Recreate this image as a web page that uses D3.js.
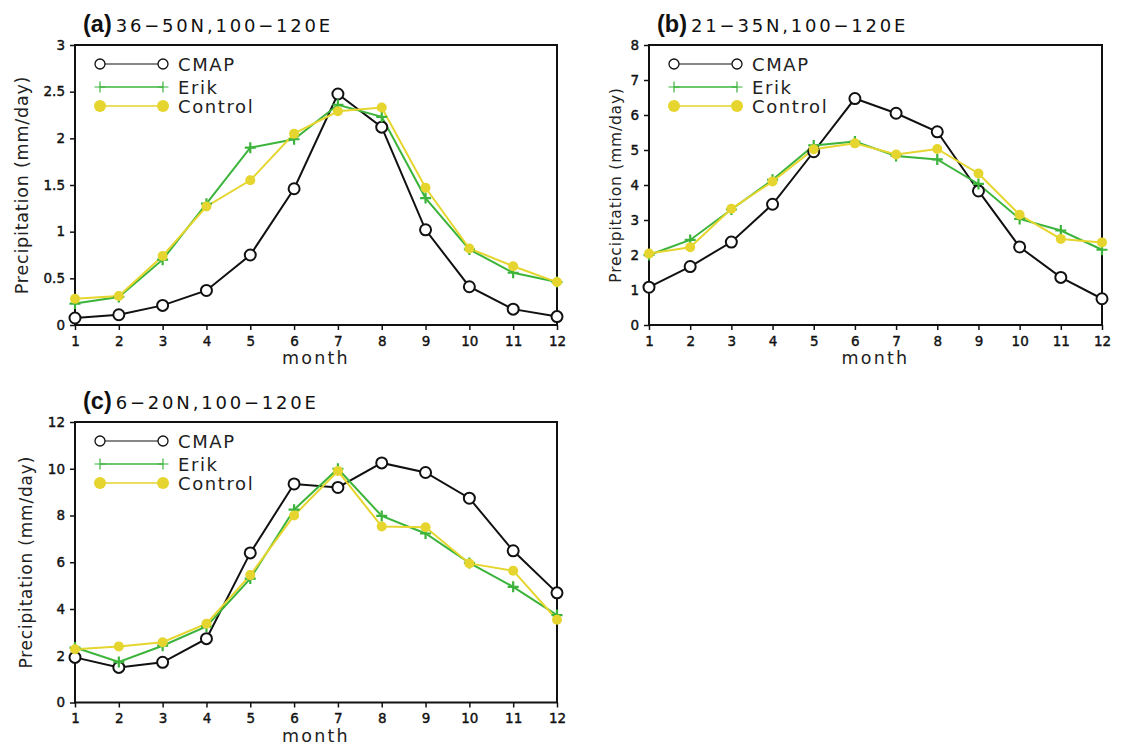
<!DOCTYPE html>
<html>
<head>
<meta charset="utf-8">
<script src="https://cdn.jsdelivr.net/npm/d3@7"></script>
<style>
  body { margin: 0; background: #fff; }
  svg { display: block; }
</style>
</head>
<body>
<div class="container"></div>
<script>
// monthly precipitation (mm/day)
const months = [1, 2, 3, 4, 5, 6, 7, 8, 9, 10, 11, 12];

const cmapA    = [0.075, 0.11, 0.21, 0.37, 0.75, 1.46, 2.475, 2.12, 1.02, 0.41, 0.17, 0.09];
const erikA    = [0.23, 0.30, 0.70, 1.30, 1.90, 1.99, 2.36, 2.23, 1.36, 0.81, 0.56, 0.46];
const controlA = [0.28, 0.31, 0.74, 1.27, 1.55, 2.05, 2.29, 2.33, 1.47, 0.82, 0.63, 0.46];

const cmapB    = [1.08, 1.67, 2.37, 3.45, 4.95, 6.47, 6.05, 5.52, 3.83, 2.23, 1.36, 0.75];
const erikB    = [2.00, 2.43, 3.30, 4.15, 5.13, 5.24, 4.83, 4.73, 4.03, 3.03, 2.70, 2.15];
const controlB = [2.04, 2.22, 3.32, 4.10, 5.02, 5.19, 4.87, 5.03, 4.33, 3.15, 2.46, 2.36];

const cmapC    = [1.93, 1.50, 1.72, 2.73, 6.40, 9.35, 9.20, 10.25, 9.84, 8.74, 6.49, 4.69];
const erikC    = [2.35, 1.73, 2.43, 3.25, 5.30, 8.25, 10.0, 7.98, 7.23, 5.97, 4.95, 3.74];
const controlC = [2.28, 2.40, 2.58, 3.37, 5.45, 8.00, 9.90, 7.53, 7.50, 5.95, 5.64, 3.54];

const yTicksA = [0, 0.5, 1, 1.5, 2, 2.5, 3];
const yTicksB = [0, 1, 2, 3, 4, 5, 6, 7, 8];
const yTicksC = [0, 2, 4, 6, 8, 10, 12];

const seriesNames = ["CMAP", "Erik", "Control"];
const colors = { CMAP: "#111", Erik: "#3cb43c", Control: "#e5d52e" };

const W = 1146, H = 749;
const svg = d3.select(".container").append("svg")
  .attr("width", W).attr("height", H)
  .style("font-family", "'DejaVu Sans', sans-serif");

const panels = [
  { tag: "(a)", title: "36\u221250N,100\u2212120E", x0: 75, x1: 557, y0: 45, y1: 325,
    ymax: 3, ticks: yTicksA, data: [cmapA, erikA, controlA], labX: 28, labSize: 17.5 },
  { tag: "(b)", title: "21\u221235N,100\u2212120E", x0: 649, x1: 1102, y0: 45, y1: 325,
    ymax: 8, ticks: yTicksB, data: [cmapB, erikB, controlB], labX: 621, labSize: 15.5 },
  { tag: "(c)", title: "6\u221220N,100\u2212120E", x0: 75, x1: 557, y0: 422, y1: 702.5,
    ymax: 12, ticks: yTicksC, data: [cmapC, erikC, controlC], labX: 32, labSize: 17 }
];

function marker(g, name, cx, cy, big) {
  if (name === "CMAP") {
    g.append("circle").attr("cx", cx).attr("cy", cy).attr("r", big ? 5 : 5.5)
      .attr("fill", "#fff").attr("stroke", colors.CMAP).attr("stroke-width", big ? 1.3 : 2);
  } else if (name === "Erik") {
    const s = 5.5;
    g.append("path")
      .attr("d", `M${cx - s},${cy}H${cx + s}M${cx},${cy - s}V${cy + s}`)
      .attr("stroke", colors.Erik).attr("stroke-width", big ? 1.2 : 2.2);
  } else {
    g.append("circle").attr("cx", cx).attr("cy", cy).attr("r", big ? 6 : 5)
      .attr("fill", colors.Control);
  }
}

panels.forEach(p => {
  const x = d3.scaleLinear().domain([1, 12]).range([p.x0, p.x1]);
  const y = d3.scaleLinear().domain([0, p.ymax]).range([p.y1, p.y0]);
  const g = svg.append("g");

  // frame
  g.append("rect").attr("x", p.x0).attr("y", p.y0)
    .attr("width", p.x1 - p.x0).attr("height", p.y1 - p.y0)
    .attr("fill", "none").attr("stroke", "#111").attr("stroke-width", 2);

  const xAxis = g.append("g").attr("transform", `translate(0,${p.y1})`)
    .call(d3.axisBottom(x).tickValues(months).tickSize(5).tickSizeOuter(0).tickPadding(6));
  const yAxis = g.append("g").attr("transform", `translate(${p.x0},0)`)
    .call(d3.axisLeft(y).tickValues(p.ticks).tickSize(5).tickSizeOuter(0).tickPadding(5)
      .tickFormat(d => String(d)));
  [xAxis, yAxis].forEach(a => {
    a.select(".domain").remove();
    a.selectAll("line").attr("stroke", "#111").attr("stroke-width", 1.5);
    a.selectAll("text").attr("fill", "#111").style("font-size", "13.5px")
      .style("font-family", "'DejaVu Sans', sans-serif")
      .attr("stroke", "#111").attr("stroke-width", 0.4);
  });

  // axis titles
  g.append("text").attr("x", (p.x0 + p.x1) / 2).attr("y", p.y1 + 39)
    .attr("text-anchor", "middle").style("font-size", "17.5px").style("letter-spacing", "2.2px")
    .attr("fill", "#222").text("month");
  g.append("text")
    .attr("transform", `translate(${p.labX},${(p.y0 + p.y1) / 2}) rotate(-90)`)
    .attr("text-anchor", "middle").style("font-size", p.labSize + "px").style("letter-spacing", "0.8px")
    .attr("fill", "#222").text("Precipitation (mm/day)");

  // panel title
  const t = g.append("text").attr("x", p.x0 + 8).attr("y", p.y0 - 13).attr("fill", "#111");
  t.append("tspan").style("font-size", "23.5px").style("font-weight", "bold")
    .style("font-family", "'Liberation Sans', Arial, sans-serif").text(p.tag);
  t.append("tspan").attr("dx", 4).style("font-size", "18px").style("letter-spacing", "2.8px")
    .text(p.title);

  // series (CMAP first, then Erik, Control on top)
  const line = d3.line().x((d, i) => x(months[i])).y(d => y(d));
  seriesNames.forEach((name, k) => {
    g.append("path").datum(p.data[k]).attr("d", line).attr("fill", "none")
      .attr("stroke", colors[name]).attr("stroke-width", 2);
  });
  seriesNames.forEach((name, k) => {
    p.data[k].forEach((v, i) => marker(g, name, x(months[i]), y(v), false));
  });

  // legend
  const lx0 = p.x0 + 25, lx1 = p.x0 + 88, ly = p.y0 + 19;
  seriesNames.forEach((name, k) => {
    const yy = ly + [0, 23, 42][k];
    g.append("line").attr("x1", lx0).attr("x2", lx1).attr("y1", yy).attr("y2", yy)
      .attr("stroke", colors[name]).attr("stroke-width", name === "CMAP" ? 1.2 : 1.3);
    marker(g, name, lx0, yy, true);
    marker(g, name, lx1, yy, true);
    g.append("text").attr("x", lx1 + 15).attr("y", yy + 6.5)
      .style("font-size", "18px").style("letter-spacing", "1.6px")
      .attr("fill", "#222").text(name);
  });
});
</script>
</body>
</html>
